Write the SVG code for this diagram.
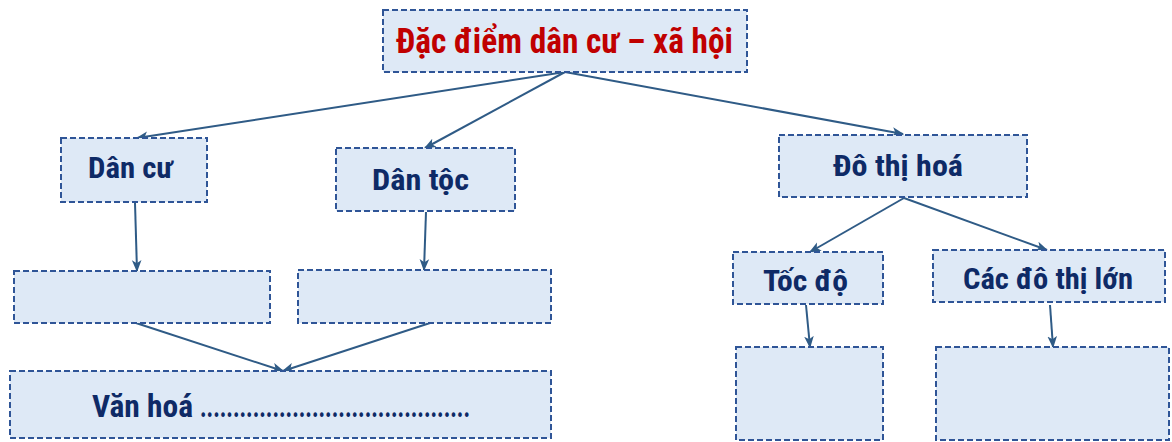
<svg xmlns="http://www.w3.org/2000/svg" width="1172" height="442" viewBox="0 0 1172 442">
<defs>
<style>
.box{fill:#DEE9F6;stroke:#2F5597;stroke-width:2;stroke-dasharray:6 3}
.t{font-family:"Liberation Sans Narrow","Roboto Condensed","Lato","Noto Sans",sans-serif;font-weight:bold;fill:#0E2A66;font-size:29px}
.c{stroke:#2F5B86;stroke-width:2;fill:none;marker-end:url(#a)}
</style>
<marker id="a" viewBox="0 0 10 10" refX="9" refY="5" markerWidth="6" markerHeight="6" orient="auto" markerUnits="strokeWidth"><path d="M0,1 L10,5 L0,9 L2.5,5 z" fill="#2F5B86"/></marker>
</defs>
<rect width="1172" height="442" fill="#fff"/>
<g id="connectors">
<line class="c" x1="565" y1="72" x2="137" y2="138"/>
<line class="c" x1="565" y1="72" x2="425" y2="148"/>
<line class="c" x1="565" y1="72" x2="903" y2="134"/>
<line class="c" x1="135" y1="203" x2="137" y2="271"/>
<line class="c" x1="426" y1="212" x2="424" y2="270"/>
<line class="c" x1="136" y1="323" x2="283" y2="371"/>
<line class="c" x1="430" y1="323" x2="283" y2="371"/>
<line class="c" x1="904" y1="198" x2="810" y2="252"/>
<line class="c" x1="904" y1="198" x2="1047" y2="250"/>
<line class="c" x1="806" y1="305" x2="810" y2="347"/>
<line class="c" x1="1050" y1="305" x2="1053" y2="347"/>
</g>
<g id="root"><rect class="box" x="383" y="10" width="364" height="62"/><text class="t" x="396" y="53" textLength="337" lengthAdjust="spacingAndGlyphs" style="fill:#C00000;font-size:35px">Đặc điểm dân cư – xã hội</text></g>
<g id="dancu"><rect class="box" x="61" y="138" width="146" height="64"/><text class="t" x="88" y="178" textLength="85" lengthAdjust="spacingAndGlyphs">Dân cư</text></g>
<g id="dantoc"><rect class="box" x="336" y="148" width="179" height="63"/><text class="t" x="372" y="190" textLength="97" lengthAdjust="spacingAndGlyphs">Dân tộc</text></g>
<g id="dothihoa"><rect class="box" x="779" y="135" width="248" height="62"/><text class="t" x="833" y="176" textLength="130" lengthAdjust="spacingAndGlyphs">Đô thị hoá</text></g>
<g id="blank1"><rect class="box" x="14" y="271" width="256" height="52"/></g>
<g id="blank2"><rect class="box" x="298" y="270" width="253" height="53"/></g>
<g id="vanhoa"><rect class="box" x="10" y="371" width="541" height="67"/><text class="t" y="417" style="font-size:32px"><tspan x="92" textLength="101" lengthAdjust="spacingAndGlyphs">Văn hoá</tspan><tspan x="200" textLength="270" lengthAdjust="spacingAndGlyphs">.........................................</tspan></text></g>
<g id="tocdo"><rect class="box" x="733" y="252" width="150" height="52"/><text class="t" x="763" y="291" textLength="85" lengthAdjust="spacingAndGlyphs">Tốc độ</text></g>
<g id="cacdothi"><rect class="box" x="933" y="250" width="232" height="52"/><text class="t" x="963" y="289" textLength="170" lengthAdjust="spacingAndGlyphs">Các đô thị lớn</text></g>
<g id="blank3"><rect class="box" x="736" y="347" width="147" height="93"/></g>
<g id="blank4"><rect class="box" x="936" y="347" width="233" height="93"/></g>
</svg>
